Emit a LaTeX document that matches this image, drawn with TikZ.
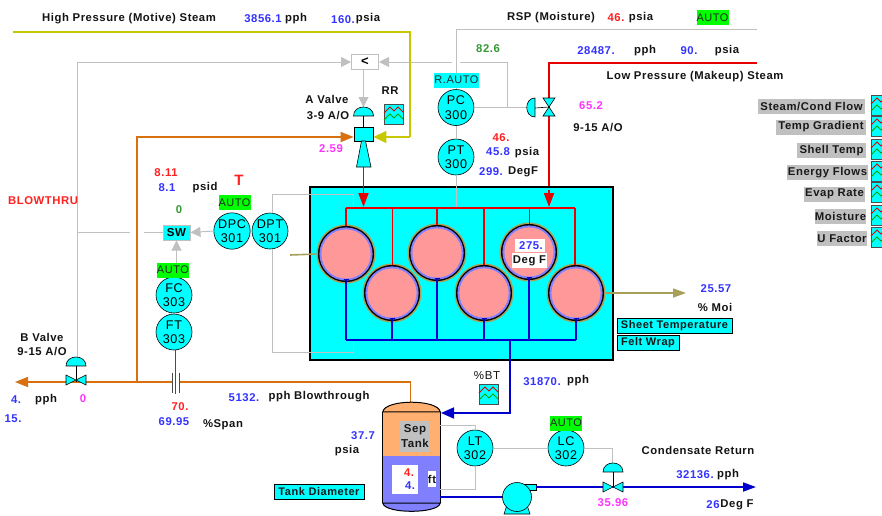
\documentclass[tikz,border=0pt]{standalone}
\usepackage{fontspec}
\setmainfont{Liberation Sans}[LetterSpace=5]
\usetikzlibrary{arrows.meta}
\definecolor{cy}{HTML}{00FFFF}
\definecolor{gry}{HTML}{C0C0C0}
\definecolor{ora}{HTML}{D87010}
\definecolor{yel}{HTML}{C8C800}
\definecolor{kha}{HTML}{A8A058}
\definecolor{vblue}{HTML}{3333FF}
\definecolor{vred}{HTML}{FF2020}
\definecolor{vmag}{HTML}{FF33FF}
\definecolor{vgrn}{HTML}{339933}
\definecolor{pinkf}{HTML}{FF9999}
\definecolor{peri}{HTML}{8080FF}
\definecolor{sand}{HTML}{FFB070}
\definecolor{lime}{HTML}{00FF00}
\definecolor{pipeb}{HTML}{0000CC}
\definecolor{piper}{HTML}{E80000}
\tikzset{
 lab/.style={font=\fontsize{11.3}{12}\selectfont\bfseries,inner sep=0pt,text=black!92},
 blu/.style={lab,text=vblue},
 rd/.style={lab,text=vred},
 mg/.style={lab,text=vmag},
 gr/.style={lab,text=vgrn},
 inst/.style={circle,draw=black,fill=cy,minimum size=36pt,inner sep=0pt,align=center,font=\fontsize{12.6}{14.5}\selectfont,line width=.6pt},
 sig/.style={draw=gry,line width=1pt},
 sigd/.style={sig,-{Triangle[length=10pt,width=10pt,fill=gry]}},
 ylw/.style={draw=yel,line width=1.6pt},
 orng/.style={draw=ora,line width=1.6pt},
 redp/.style={draw=piper,line width=1.7pt},
 blup/.style={draw=pipeb,line width=1.7pt},
 khk/.style={draw=kha,line width=1.6pt},
 auto/.style={fill=lime,inner sep=0pt,minimum width=29pt,minimum height=15pt,font=\fontsize{11}{12}\selectfont,text=black!85},
 cyb/.style={fill=cy,draw=black,line width=1pt,inner sep=0pt,minimum height=15pt,font=\fontsize{11}{12}\selectfont\bfseries,text=black!90},
 trend/.style={fill=gry,inner sep=0pt,minimum height=15pt,font=\fontsize{11.3}{12}\selectfont\bfseries,text=black!90},
 icon/.pic={
  \fill[cy] (0,0) rectangle (19,20);
  \draw[black!70,line width=.8pt] (0,0) rectangle (19,20);
  \draw[red!85!black,line width=.8pt] (0,9)--(6,3)--(10,7)--(14,3)--(19,8);
  \draw[green!65!black,line width=.8pt] (0,16)--(6,10)--(10,14)--(14,10)--(19,15);
 },
 dome/.pic={
  \path[fill=cy,draw=black,line width=.6pt] (-10,0) .. controls (-10,-12) and (10,-12) .. (10,0) -- cycle;
 },
 hvalve/.pic={
  \path[fill=cy,draw=black,line width=.6pt] (-10,-5)--(10,5)--(10,-5)--(-10,5)--cycle;
 },
 vvalve/.pic={
  \path[fill=cy,draw=black,line width=.6pt] (-6,-9)--(6,9)--(-6,9)--(6,-9)--cycle;
 },
}
\newcommand\lb[5]{\node[#4] (#1) at (#2,#3) {#5};}
\newcommand\shell[3]{%
 \node[circle,minimum size=59pt,inner sep=0pt,fill=kha] (#1) at (#2,#3) {};
 \fill[black] (#1.center) circle[radius=28pt];
 \fill[peri] (#1.center) circle[radius=26.6pt];
 \fill[pinkf] (#1.center) circle[radius=24.6pt];
 \coordinate (#1b) at (#2,#3+25);
}
\begin{document}
\begin{tikzpicture}[x=1pt,y=-1pt]
\useasboundingbox (0,0) rectangle (882,515);
\fill[white] (0,0) rectangle (882,515);
\begin{scope}
\clip (0,0) rectangle (882,515);

% instruments
\node[inst] (pc) at (456,107.5) {PC\\300};
\node[inst] (pt) at (456,157) {PT\\300};
\node[inst] (dpc) at (232,231) {DPC\\301};
\node[inst] (dpt) at (270,231) {DPT\\301};
\node[inst] (fc) at (174,295) {FC\\303};
\node[inst] (ft) at (174,332) {FT\\303};
\node[inst] (lt) at (475,448) {LT\\302};
\node[inst] (lc) at (566,448) {LC\\302};
\node[draw=gry,fill=white,line width=1pt,minimum width=27pt,minimum height=15pt,inner sep=0pt,font=\fontsize{13}{12}\selectfont\bfseries] (sel) at (365,62) {<};
\node[draw=gry,fill=cy,line width=1pt,minimum width=27pt,minimum height=15pt,inner sep=0pt,font=\fontsize{11.5}{12}\selectfont\bfseries] (sw) at (176.5,232.5) {SW};
\node[fill=cy,draw=black,line width=.8pt,minimum width=19pt,minimum height=14pt,inner sep=0pt] (avb) at (363.5,134) {};
\coordinate (avd) at (363.5,116);
\coordinate (bvc) at (76,382);
\coordinate (bvd) at (76,366);
\coordinate (lpv) at (549,107);
\coordinate (lpa) at (535,108);
\coordinate (crv) at (613,487);
\coordinate (crd) at (613,472);
\coordinate (hdrL) at (346,208);
\coordinate (hdrR) at (575,208);
\coordinate (hdrB) at (345,340);

% signal lines
\coordinate (nw) at (77,62);
\draw[sigd] (nw |- bvd) ++(0,-9) -- (nw) -- (sel.west);
\draw[sigd] (414,62) -- (sel.east);
\draw[sig] (414,62) -- (452,62);
\draw[sig] (460,62) -- (507,62) -- (507,108);
\draw[sigd] (sel.south -| avd) -- (363.5,107);
\draw[sig] (pc.east) -- (527,107.5);
\draw[sig] (456,29) -- (pc.north);
\draw[sig] (757,29) -- (456,29);
\draw[sig] (pc.south) -- (pt.north);
\draw[sigd] (dpc.west) -- (sw.east);
\draw[sig] (sw.west) -- (144,232.5);
\draw[sig] (130,232.5) -- (nw |- sw.west);
\draw[sigd] (fc.north -| sw.south) -- (sw.south);
\draw[sig] (lc.east) -- (612,448) -- (612,463);
\draw[sig] (lt.east) -- (lc.west);

% steam / blowthrough pipes
\draw[ylw] (13,32) -- (410,32) -- (410,137);
\draw[ylw,-{Triangle[length=13pt,width=12pt,fill=yel]}] (410,137) -- (avb.east |- 0,137);
\draw[orng,-{Triangle[length=13pt,width=10pt,fill=ora]}] (137,382) -- (15,382);
\draw[orng] (137,382) -- (410.5,382) -- (410.5,403);
\draw[orng,-{Triangle[length=13pt,width=10pt,fill=ora]}] (137,382) -- (137,137) -- (avb.west |- 0,137);
\draw[redp] (757,63) -- (549,63) -- (549,193);
\draw[redp] (hdrL) -- (hdrR);
\draw[blup] (510,340) -- (510,413);

% dryer section
\node[fill=cy,draw=black,line width=2pt,minimum width=303pt,minimum height=173pt,inner sep=0pt] (dryer) at (461.5,273.5) {};
\draw[sig] (272,249) -- (272,352) -- (353,352) -- (353,340);
\draw[sig] (272,213) -- (272,194) -- (353,194) -- (353,208);
\draw[sig] (pt.south) -- (pt.south |- hdrL);
\draw[redp,-{Triangle[length=14pt,width=10pt,fill=piper]}] (363.5,165) -- (363.5,207);
\draw[redp,-{Triangle[length=14pt,width=10pt,fill=piper]}] (549,190) -- (549,207);
\draw[redp] (hdrL) -- (hdrR);
\shell{s1}{346}{254}
\shell{s2}{392}{293}
\shell{s3}{437}{253}
\shell{s4}{484}{293}
\shell{s5}{529}{252}
\shell{s6}{576}{293}
\draw[redp] (hdrL) -- (346,226);
\draw[redp] (392.5,208) -- (392.5,265);
\draw[redp] (437,208) -- (437,225);
\draw[redp] (484,208) -- (484,265);
\draw[redp] (529.5,208) -- (529.5,224);
\draw[redp] (hdrR) -- (575,265);
\foreach \s in {s1,s2,s3,s4,s5,s6}{
 \draw[blup] (\s b) -- (\s b |- hdrB);
 \draw[pipeb,line width=1pt] ([xshift=-2.5pt]\s b) -- ([xshift=2.5pt]\s b);
}
\draw[blup] (s1b |- hdrB) -- (s6b |- hdrB);
\draw[blup] (510,340) -- (510,360);
\draw[khk] (290,255) -- (s1.west);
\draw[khk,-{Triangle[length=13pt,width=9pt,fill=kha]}] (s6.east) -- (686,293);

% A valve
\draw[black,line width=.6pt] (avd) -- (avb.north);
\pic at (avd) {dome};
\node[fill=cy,draw=black,line width=.8pt,minimum width=19pt,minimum height=14pt,inner sep=0pt] at (avb) {};
\path[fill=cy,draw=black,line width=.6pt] (361.5,141) -- (365.5,141) -- (371,167) -- (356.5,167) -- cycle;

% low pressure valve
\draw[black,line width=.6pt] (lpa) -- (lpv);
\path[fill=cy,draw=black,line width=.6pt] (535,98) .. controls (524,98) and (524,117) .. (535,117) -- cycle;
\pic at (lpv) {vvalve};

% B valve
\draw[black,line width=.6pt] (bvd) -- (bvc);
\pic at (bvd) {dome};
\pic at (76,380) {hvalve};

% orifice
\fill[white] (172,375) rectangle (179,390);
\draw[black!70,line width=1pt] (172,373) -- (172,393);
\draw[black!70,line width=1pt] (175,350) -- (175,394);
\draw[black!70,line width=1pt] (179,373) -- (179,393);

% separator tank
\node[minimum width=57pt,minimum height=44pt,inner sep=0pt,fill=sand] (tku) at (411.5,434) {};
\node[minimum width=57pt,minimum height=47pt,inner sep=0pt,fill=peri] (tkl) at (411.5,479.5) {};
\path[fill=sand,draw=black,line width=1pt] (tku.north west) .. controls (385,399) and (438,399) .. (tku.north east) -- cycle;
\path[fill=peri,draw=black,line width=1pt] (tkl.south west) .. controls (385,514) and (438,514) .. (tkl.south east) -- cycle;
\draw[black,line width=1pt] (tku.north west) -- (tkl.south west) (tku.north east) -- (tkl.south east);
\draw[sig] (440,425) -| (lt.north);
\draw[sig] (lt.south) |- (440,489);
\draw[blup,-{Triangle[length=13pt,width=11pt,fill=pipeb]}] (510,360) -- (510,413) -- (441,413);
\node[fill=gry,minimum width=30pt,minimum height=31pt,inner sep=0pt,align=center,font=\fontsize{11.5}{15}\selectfont\bfseries,text=black!90] (septxt) at (415,436.5) {Sep\\Tank};
\fill[white] (392,465) rectangle (418,494);
\node[lab,fill=white,minimum width=8pt,minimum height=16pt] (ft1) at (432,479) {ft};

% pump and condensate
\draw[blup] (440,497) -- (503,497);
\path[fill=cy,draw=black,line width=.6pt] (507,505) -- (527,505) -- (530,514) -- (504,514) -- cycle;
\path[fill=cy,draw=black,line width=.6pt] (517,484) rectangle (536,490);
\node[circle,fill=cy,draw=black,line width=.6pt,minimum size=29pt,inner sep=0pt] (pump) at (517,497) {};
\draw[blup,-{Triangle[length=13pt,width=9pt,fill=pipeb]}] (536,487) -- (756,487);
\draw[black,line width=.6pt] (crd) -- (crv);
\pic at (crd) {dome};
\pic at (crv) {hvalve};

% trend icons
\pic at (384,104) {icon};
\pic at (479,384) {icon};
\foreach \y in {95,116,139,161,182,205,227}{\pic at (871,\y) {icon};}

% status boxes
\node[auto,minimum width=43pt,fill=cy] (rauto) at (456.5,80) {R.AUTO};
\node[auto] (a1) at (712.5,17.5) {AUTO};
\node[auto] (a2) at (234.5,202.5) {AUTO};
\node[auto] (a3) at (173,270) {AUTO};
\node[auto] (a4) at (566,423) {AUTO};
\node[cyb,minimum width=90pt] (tdia) at (319,491.5) {Tank Diameter};
\node[cyb,minimum width=115pt] (stemp) at (674.5,325.5) {Sheet Temperature};
\node[cyb,minimum width=62pt] (fwrap) at (648,342.5) {Felt Wrap};
\node[fill=white,minimum width=30pt,minimum height=13pt,inner sep=0pt] (w1) at (530,245.5) {};
\node[fill=white,minimum width=35pt,minimum height=15pt,inner sep=0pt] (w2) at (529.5,260.5) {};

% trend labels
\node[trend,minimum width=107pt] (tr1) at (811.5,106.5) {Steam/Cond Flow};
\node[trend,minimum width=90pt] (tr2) at (821,127) {Temp Gradient};
\node[trend,minimum width=69pt] (tr3) at (831.5,150.5) {Shell Temp};
\node[trend,minimum width=81pt] (tr4) at (827.5,172.5) {Energy Flows};
\node[trend,minimum width=61pt] (tr5) at (834.5,194) {Evap Rate};
\node[trend,minimum width=51pt] (tr6) at (840.5,216) {Moisture};
\node[trend,minimum width=50pt] (tr7) at (842,238.5) {U Factor};

% text
\lb{t1}{129}{19}{lab}{High Pressure (Motive) Steam}
\lb{t2}{263}{19}{blu}{3856.1}
\lb{t3}{296}{19}{lab}{pph}
\lb{t4}{343}{20}{blu}{160.}
\lb{t5}{368}{19}{lab}{psia}
\lb{t6}{551}{18}{lab}{RSP (Moisture)}
\lb{t7}{616}{18}{rd}{46.}
\lb{t8}{641}{18}{lab}{psia}
\lb{t9}{488}{49}{gr}{82.6}
\lb{t10}{596}{51}{blu}{28487.}
\lb{t11}{645}{51}{lab}{pph}
\lb{t12}{689}{51}{blu}{90.}
\lb{t13}{727}{51}{lab}{psia}
\lb{t14}{695}{77}{lab}{Low Pressure (Makeup) Steam}
\lb{t15}{591}{106}{mg}{65.2}
\lb{t16}{598}{128}{lab}{9-15 A/O}
\lb{t17}{501}{138}{rd}{46.}
\lb{t18}{498}{152}{blu}{45.8}
\lb{t19}{527}{153}{lab}{psia}
\lb{t20}{491}{172}{blu}{299.}
\lb{t21}{523}{172}{lab}{DegF}
\lb{t22}{390}{91}{lab}{RR}
\lb{t23}{327}{99}{lab}{A Valve}
\lb{t24}{328}{116}{lab}{3-9 A/O}
\lb{t25}{331}{149}{mg}{2.59}
\lb{t26}{166}{173}{rd}{8.11}
\lb{t27}{167}{188}{blu}{8.1}
\lb{t28}{205}{188}{lab}{psid}
\lb{t29}{239}{180}{rd,font=\fontsize{15}{15}\selectfont\bfseries}{T}
\lb{t30}{179}{210}{gr}{0}
\lb{t31}{43}{201}{rd}{BLOWTHRU}
\lb{t32}{42}{337}{lab}{B Valve}
\lb{t33}{42}{352}{lab}{9-15 A/O}
\lb{t34}{16}{400}{blu}{4.}
\lb{t35}{46}{400}{lab}{pph}
\lb{t36}{83}{399}{mg}{0}
\lb{t37}{13}{419}{blu}{15.}
\lb{t38}{180}{407}{rd}{70.}
\lb{t39}{174}{422}{blu}{69.95}
\lb{t40}{223}{425}{lab}{\%Span}
\lb{t41}{244}{398}{blu}{5132.}
\lb{t42}{319}{397}{lab}{pph Blowthrough}
\lb{t43}{487}{376}{lab,font=\fontsize{11.5}{12}\selectfont}{\%BT}
\lb{t44}{542}{382}{blu}{31870.}
\lb{t45}{578}{381}{lab}{pph}
\lb{t46}{363}{436}{blu}{37.7}
\lb{t47}{347}{451}{lab}{psia}
\lb{t48}{716}{289}{blu}{25.57}
\lb{t49}{715}{307}{lab}{\% Moi}
\lb{t50}{698}{450}{lab}{Condensate Return}
\lb{t51}{695}{475}{blu}{32136.}
\lb{t52}{728}{475}{lab}{pph}
\lb{t53}{713}{505}{blu}{26}
\lb{t54}{737}{505}{lab}{Deg F}
\lb{t55}{613}{503}{mg}{35.96}
\lb{t56}{409}{473}{rd}{4.}
\lb{t57}{410}{486}{blu}{4.}
\lb{t58}{531}{246}{blu}{275.}
\lb{t59}{529.5}{261}{lab}{Deg F}
\end{scope}
\end{tikzpicture}
\end{document}
